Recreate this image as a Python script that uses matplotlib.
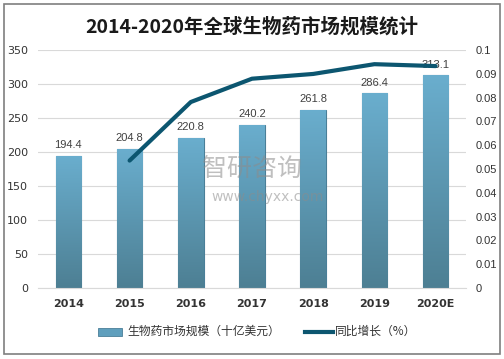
import numpy as np
import matplotlib
matplotlib.use('Agg')
import matplotlib.pyplot as plt
from matplotlib.patches import Rectangle

plt.rcParams['font.family'] = ['Noto Sans CJK SC', 'DejaVu Sans']

years = ['2014', '2015', '2016', '2017', '2018', '2019', '2020E']
market = [194.4, 204.8, 220.8, 240.2, 261.8, 286.4, 313.1]
growth_years = ['2015', '2016', '2017', '2018', '2019', '2020E']
growth = [0.0535, 0.0781, 0.0879, 0.0899, 0.0940, 0.0932]

fig = plt.figure(figsize=(5.04, 3.59), dpi=100)
ax = fig.add_axes([0.075, 0.198, 0.85, 0.663])

x = np.arange(len(years))
bars = ax.bar(x, market, width=0.42, color='#5f9fbd', edgecolor='#4a7f98', linewidth=0.8, zorder=2)

# gradient fill on each bar
grad = np.linspace(0, 1, 256).reshape(-1, 1)
cmap = matplotlib.colors.LinearSegmentedColormap.from_list('g', ['#4d7f93', '#6aaece'])
for b in bars:
    bx, by = b.get_x(), b.get_y()
    w, h = b.get_width(), b.get_height()
    im = ax.imshow(grad, extent=[bx, bx + w, by, by + h], origin='lower', cmap=cmap,
                   aspect='auto', zorder=2.5)
    im.set_clip_path(b)

for xi, v in zip(x, market):
    ax.text(xi, v + 8, f'{v}', ha='center', va='bottom', fontsize=8, color='#404040',
            family='Liberation Sans', zorder=5)

ax.set_xlim(-0.5, len(years) - 0.5)
ax.set_ylim(0, 350)
ax.set_yticks(range(0, 351, 50))
ax.set_xticks(x)
ax.set_xticklabels(years, fontsize=8, fontweight='bold', color='#333333', family='DejaVu Sans')
ax.tick_params(axis='y', labelsize=8, colors='#333333', length=0, pad=7)
ax.tick_params(axis='x', length=0, pad=8)
for lb in ax.get_yticklabels():
    lb.set_family('DejaVu Sans')
ax.grid(axis='y', color='#d9d9d9', linewidth=0.8, zorder=0)
for s in ax.spines.values():
    s.set_visible(False)
ax.spines['bottom'].set_visible(True)
ax.spines['bottom'].set_color('#d9d9d9')

ax2 = ax.twinx()
gx = [years.index(y) for y in growth_years]
ax2.plot(gx, growth, color='#0c5670', linewidth=3, zorder=4, solid_capstyle='round')
ax2.set_ylim(0, 0.1)
ax2.set_yticks(np.arange(0, 0.1001, 0.01))
ax2.set_yticklabels(['0', '0.01', '0.02', '0.03', '0.04', '0.05', '0.06', '0.07', '0.08', '0.09', '0.1'],
                    family='Liberation Sans')
ax2.tick_params(axis='y', labelsize=8, colors='#333333', length=0, pad=7)
for s in ax2.spines.values():
    s.set_visible(False)

fig.text(0.5, 0.925, '2014-2020年全球生物药市场规模统计', ha='center', va='center',
         fontsize=14, fontweight='bold', color='#1a1a1a')

# watermark
fig.text(0.40, 0.53, '智研咨询', ha='left', va='center', fontsize=18, color='#8c8c8c', alpha=0.55)
fig.text(0.42, 0.45, 'www.chyxx.com', ha='left', va='center', fontsize=10, color='#8c8c8c',
         alpha=0.55, family='DejaVu Sans')

# legend
fig.patches.append(Rectangle((0.195, 0.065), 0.048, 0.022, transform=fig.transFigure,
                             facecolor='#5f9fbd', edgecolor='#4a7f98', linewidth=0.6))
fig.text(0.252, 0.076, '生物药市场规模（十亿美元）', ha='left', va='center', fontsize=8.5, color='#333333')
fig.lines.append(plt.Line2D([0.605, 0.66], [0.076, 0.076], transform=fig.transFigure,
                            color='#0c5670', linewidth=3))
fig.text(0.665, 0.076, '同比增长（%）', ha='left', va='center', fontsize=8.5, color='#333333')

fig.patches.append(Rectangle((0.008, 0.014), 0.984, 0.974, transform=fig.transFigure,
                             facecolor='none', edgecolor='#7f7f7f', linewidth=1.2))

fig.savefig('out.png', dpi=100)
